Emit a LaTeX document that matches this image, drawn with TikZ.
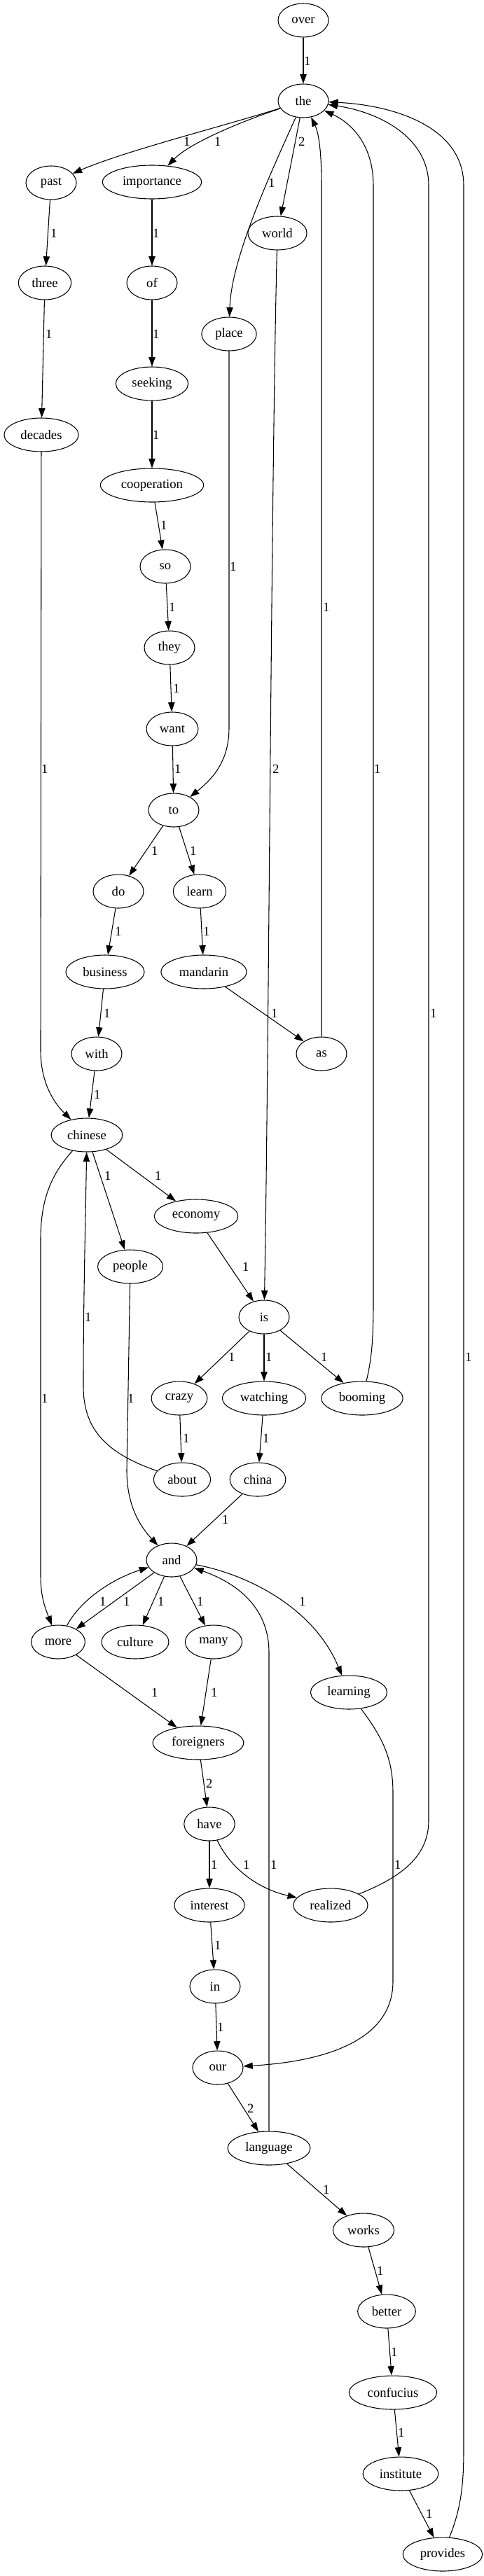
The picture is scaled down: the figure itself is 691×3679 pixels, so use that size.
\documentclass[tikz,border=0pt]{standalone}
\usepackage{fontspec}
\setmainfont{Liberation Serif}
\usetikzlibrary{arrows.meta,shapes.geometric}

\begin{document}
\begin{tikzpicture}[x=0.75pt,y=-0.75pt,
  word/.style={ellipse,draw,line width=0.8pt,minimum width=54pt,minimum height=36pt,
    inner xsep=6pt,inner ysep=2pt,font=\fontsize{14}{16}\selectfont},
  edge/.style={draw,line width=0.8pt,-{Triangle[length=10pt,width=7pt]}},
  lbl/.style={font=\fontsize{14}{16}\selectfont,inner sep=0pt,xshift=2pt}]
  \useasboundingbox (0,0) rectangle (691,3679);

  % words
  \node[word] (over) at (433,29) {over};
  \node[word] (the) at (433,144) {the};
  \node[word] (past) at (73,261) {past};
  \node[word] (importance) at (217,260) {importance};
  \node[word] (world) at (396,333) {world};
  \node[word] (three) at (64,404) {three};
  \node[word] (of) at (217,404) {of};
  \node[word] (place) at (327,477) {place};
  \node[word] (seeking) at (217,548) {seeking};
  \node[word] (decades) at (59,621) {decades};
  \node[word] (cooperation) at (217,693) {cooperation};
  \node[word] (so) at (236,809) {so};
  \node[word] (they) at (242,925) {they};
  \node[word] (want) at (246,1041) {want};
  \node[word] (to) at (248,1157) {to};
  \node[word] (do) at (169,1273) {do};
  \node[word] (learn) at (285,1273) {learn};
  \node[word] (business) at (150,1388) {business};
  \node[word] (mandarin) at (291,1388) {mandarin};
  \node[word] (with) at (138,1505) {with};
  \node[word] (as) at (459,1505) {as};
  \node[word] (chinese) at (124,1621) {chinese};
  \node[word] (economy) at (280,1737) {economy};
  \node[word] (people) at (186,1809) {people};
  \node[word] (is) at (377,1881) {is};
  \node[word] (crazy) at (256,1997) {crazy};
  \node[word] (watching) at (377,1997) {watching};
  \node[word] (booming) at (517,1997) {booming};
  \node[word] (about) at (260,2113) {about};
  \node[word] (china) at (368,2113) {china};
  \node[word] (and) at (245,2228) {and};
  \node[word] (more) at (83,2345) {more};
  \node[word] (culture) at (193,2345) {culture};
  \node[word] (many) at (305,2345) {many};
  \node[word] (learning) at (498,2417) {learning};
  \node[word] (foreigners) at (283,2489) {foreigners};
  \node[word] (have) at (299,2605) {have};
  \node[word] (interest) at (299,2721) {interest};
  \node[word] (realized) at (472,2721) {realized};
  \node[word] (in) at (307,2837) {in};
  \node[word] (our) at (311,2953) {our};
  \node[word] (language) at (384,3068) {language};
  \node[word] (works) at (519,3185) {works};
  \node[word] (better) at (552,3301) {better};
  \node[word] (confucius) at (561,3417) {confucius};
  \node[word] (institute) at (572,3533) {institute};
  \node[word] (provides) at (632,3648) {provides};

  % edges
  \draw[edge] (over) -- (the) node[lbl] at (436,87) {1};
  \draw[edge] (the) .. controls (320,180) and (180,215) .. (past) node[lbl] at (264,202) {1};
  \draw[edge] (the) .. controls (340,175) and (270,205) .. (importance) node[lbl] at (308,202) {1};
  \draw[edge] (the) .. controls (385,250) and (330,370) .. (place) node[lbl] at (385,261) {1};
  \draw[edge] (the) -- (world) node[lbl] at (428,202) {2};
  \draw[edge] (past) -- (three) node[lbl] at (74,333) {1};
  \draw[edge] (importance) -- (of) node[lbl] at (220,333) {1};
  \draw[edge] (three) -- (decades) node[lbl] at (67,477) {1};
  \draw[edge] (of) -- (seeking) node[lbl] at (220,477) {1};
  \draw[edge] (seeking) -- (cooperation) node[lbl] at (220,621) {1};
  \draw[edge] (cooperation) -- (so) node[lbl] at (231,750) {1};
  \draw[edge] (so) -- (they) node[lbl] at (243,867) {1};
  \draw[edge] (they) -- (want) node[lbl] at (249,983) {1};
  \draw[edge] (want) -- (to) node[lbl] at (251,1098) {1};
  \draw[edge] (place) -- (327,1040) .. controls (327,1090) and (300,1115) .. (to) node[lbl] at (330,809) {1};
  \draw[edge] (world) .. controls (387,700) and (384,1500) .. (is) node[lbl] at (391,1098) {2};
  \draw[edge] (decades) -- (58,1500) .. controls (58,1550) and (80,1578) .. (chinese) node[lbl] at (61,1098) {1};
  \draw[edge] (to) -- (do) node[lbl] at (218,1215) {1};
  \draw[edge] (to) -- (learn) node[lbl] at (273,1215) {1};
  \draw[edge] (do) -- (business) node[lbl] at (166,1330) {1};
  \draw[edge] (learn) -- (mandarin) node[lbl] at (292,1330) {1};
  \draw[edge] (business) -- (with) node[lbl] at (150,1447) {1};
  \draw[edge] (mandarin) -- (as) node[lbl] at (389,1447) {1};
  \draw[edge] (as) -- (459,265) .. controls (459,215) and (455,190) .. (the) node[lbl] at (463,867) {1};
  \draw[edge] (with) -- (chinese) node[lbl] at (136,1563) {1};
  \draw[edge] (chinese) -- (economy) node[lbl] at (223,1679) {1};
  \draw[edge] (chinese) -- (people) node[lbl] at (151,1679) {1};
  \draw[edge] (chinese) .. controls (75,1675) and (58,1710) .. (58,1770) -- (58,2250)
    .. controls (58,2280) and (64,2295) .. (more) node[lbl] at (61,1997) {1};
  \draw[edge] (economy) -- (is) node[lbl] at (348,1809) {1};
  \draw[edge] (people) -- (181,2100) .. controls (181,2150) and (200,2180) .. (and) node[lbl] at (184,1997) {1};
  \draw[edge] (is) -- (crazy) node[lbl] at (328,1938) {1};
  \draw[edge] (is) -- (watching) node[lbl] at (381,1938) {1};
  \draw[edge] (is) -- (booming) node[lbl] at (460,1938) {1};
  \draw[edge] (booming) .. controls (531,1940) and (533,1910) .. (533,1860) -- (533,265)
    .. controls (533,205) and (500,175) .. (the) node[lbl] at (536,1098) {1};
  \draw[edge] (about) .. controls (150,2075) and (119,2040) .. (119,1980)
    .. controls (119,1850) and (122,1750) .. (chinese) node[lbl] at (123,1881) {1};
  \draw[edge] (crazy) -- (about) node[lbl] at (263,2054) {1};
  \draw[edge] (watching) -- (china) node[lbl] at (377,2054) {1};
  \draw[edge] (china) -- (and) node[lbl] at (319,2170) {1};
  \draw[edge] (and) -- (more) node[lbl] at (178,2287) {1};
  \draw[edge] (more) .. controls (115,2285) and (160,2255) .. (and) node[lbl] at (144,2287) {1};
  \draw[edge] (and) -- (culture) node[lbl] at (227,2287) {1};
  \draw[edge] (and) -- (many) node[lbl] at (283,2287) {1};
  \draw[edge] (and) .. controls (360,2250) and (450,2300) .. (learning) node[lbl] at (429,2287) {1};
  \draw[edge] (more) -- (foreigners) node[lbl] at (218,2417) {1};
  \draw[edge] (many) -- (foreigners) node[lbl] at (303,2417) {1};
  \draw[edge] (language) -- (384,2360) .. controls (384,2290) and (330,2258) .. (and) node[lbl] at (388,2663) {1};
  \draw[edge] (learning) .. controls (545,2480) and (561,2510) .. (561,2560) -- (561,2830)
    .. controls (561,2920) and (450,2945) .. (our) node[lbl] at (565,2663) {1};
  \draw[edge] (foreigners) -- (have) node[lbl] at (296,2547) {2};
  \draw[edge] (have) -- (interest) node[lbl] at (303,2663) {1};
  \draw[edge] (have) .. controls (330,2670) and (370,2698) .. (realized) node[lbl] at (349,2663) {1};
  \draw[edge] (realized) .. controls (575,2680) and (612,2650) .. (612,2600) -- (612,265)
    .. controls (612,195) and (540,160) .. (the) node[lbl] at (616,1447) {1};
  \draw[edge] (interest) -- (in) node[lbl] at (308,2778) {1};
  \draw[edge] (in) -- (our) node[lbl] at (312,2895) {1};
  \draw[edge] (our) -- (language) node[lbl] at (355,3011) {2};
  \draw[edge] (language) -- (works) node[lbl] at (463,3127) {1};
  \draw[edge] (works) -- (better) node[lbl] at (540,3243) {1};
  \draw[edge] (better) -- (confucius) node[lbl] at (560,3359) {1};
  \draw[edge] (confucius) -- (institute) node[lbl] at (570,3474) {1};
  \draw[edge] (institute) -- (provides) node[lbl] at (610,3590) {1};
  \draw[edge] (provides) .. controls (655,3590) and (662,3560) .. (662,3500) -- (662,265)
    .. controls (662,180) and (560,150) .. (the) node[lbl] at (666,1938) {1};
\end{tikzpicture}
\end{document}
